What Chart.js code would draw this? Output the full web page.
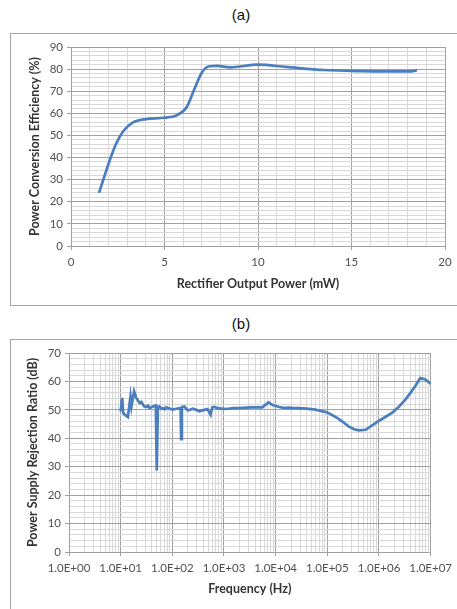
<!DOCTYPE html>
<html>
<head>
<meta charset="utf-8">
<script src="https://cdn.jsdelivr.net/npm/chart.js@4.4.1/dist/chart.umd.min.js"></script>
<style>
  body { margin: 0; background: #fff; width: 457px; height: 609px; overflow: hidden; position: relative; font-family: "Liberation Sans", Arial, sans-serif; }
  .titulo { position: absolute; width: 60px; text-align: center; font-size: 15px; color: #111; }
  .caja { position: absolute; left: 10px; width: 460px; border: 1px solid #a6a6a6; background: #fff; }
  .caja canvas { position: absolute; left: 0; top: 0; }
</style>
</head>
<body>
<div class="titulo" style="left:211px; top:6px;">(a)</div>
<div class="caja" style="top:33px; height:271px;">
  <div style="position:absolute; left:0; top:0; width:446px; height:270px;"><canvas id="graficoA"></canvas></div>
</div>
<div class="titulo" style="left:211px; top:315px;">(b)</div>
<div class="caja" style="top:339px; height:300px;">
  <div style="position:absolute; left:0; top:0; width:446px; height:269px;"><canvas id="graficoB"></canvas></div>
</div>
<script>
// (a) eficiencia vs potencia de salida
const potencia = [1.5, 2.0, 2.4, 2.8, 3.3, 4.0, 5.0, 5.7, 6.2, 6.6, 7.0, 7.4, 7.8, 8.5, 10.0, 11.5, 13.5, 15.5, 17.0, 18.2, 18.5];
const eficiencia = [24, 37, 46, 52, 55.8, 57.4, 58, 59.3, 63, 71, 78.5, 81.3, 81.5, 80.8, 82, 81, 79.6, 79.1, 79, 79, 79.5];
const ejeXA = Array.from({ length: 21 }, (_, i) => i);       // 0..20
const ejeYA = Array.from({ length: 46 }, (_, i) => i * 2);   // 0..90

// (b) PSRR vs frecuencia
const frecuencia = [10, 10.7, 11.2, 12, 13.8, 15.5, 16.2, 18.2, 20, 21.4, 23.4, 25.1, 27, 28.8, 31.6, 33.9, 36.3, 41.7,
  47.9, 50, 52.5, 56.2, 61, 66, 71, 76, 88, 102, 120, 138, 145, 148, 153, 170, 200, 251, 290, 331, 400, 479, 550, 590,
  646, 800, 1100, 1500, 1950, 2700, 3550, 4500, 5500, 7250, 9000, 11750, 14000, 18200, 22000, 28200, 40000, 58900,
  100000, 144500, 200000, 257000, 330000, 407000, 550000, 700000, 977000, 1300000, 1780000, 2400000, 3240000,
  4000000, 5010000, 6310000, 7760000, 10000000];
const psrr = [49.5, 54.2, 48.9, 48.3, 47.5, 54.7, 51.2, 56.5, 54.2, 53.5, 52.4, 52.8, 51.8, 51.2, 51, 51.5, 50.6, 51.2,
  51.5, 28.7, 51, 51.2, 50.4, 50.6, 50.2, 50.9, 50.5, 50.1, 50.4, 50.6, 50, 39.7, 51, 51.2, 49.8, 50.4, 50, 49.5, 49.9, 50.3, 48.3, 50.8,
  51, 50.5, 50.3, 50.6, 50.6, 50.8, 50.9, 50.9, 50.9, 52.6, 51.6, 51, 50.7, 50.8, 50.6, 50.6, 50.4, 50.1,
  49.1, 47.5, 45.8, 44.2, 43.2, 42.8, 43, 44.3, 46, 47.4, 48.9, 51, 53.6,
  55.8, 58.3, 61.2, 60.8, 59.2];
const decadas = [1, 10, 100, 1000, 10000, 100000, 1000000, 10000000];
const ejeXB = decadas.flatMap((d, i) => i < decadas.length - 1 ? [1, 2, 3, 4, 5, 6, 7, 8, 9].map(m => m * d) : [d]);
const ejeYB = Array.from({ length: 36 }, (_, i) => i * 2);   // 0..70

const azul = "#4a7ebf";
const rejillaMenor = "#d9d9d9";
const rejillaMayor = "#a0a0a0";
const fuenteTicks = { family: "Lato, 'Open Sans', sans-serif", size: 11.5 };
const fuenteTitulo = { family: "Lato, 'Open Sans', sans-serif", size: 12.5, weight: "bold" };

const fijarTicks = (valores) => (scale) => { scale.ticks = valores.map(v => ({ value: v })); };

// (a)
new Chart(document.getElementById("graficoA"), {
  type: "line",
  data: {
    datasets: [{
      data: potencia.map((p, i) => ({ x: p, y: eficiencia[i] })),
      borderColor: azul,
      borderWidth: 2.7,
      pointRadius: 0,
      tension: 0.4,
      cubicInterpolationMode: "monotone",
    }],
  },
  options: {
    responsive: true,
    maintainAspectRatio: false,
    animation: false,
    layout: { padding: { left: 12, right: 12, top: 13, bottom: 9 } },
    plugins: { legend: { display: false }, tooltip: { enabled: false } },
    scales: {
      x: {
        type: "linear", min: 0, max: 20,
        afterBuildTicks: fijarTicks(ejeXA),
        afterFit: (s) => { s.height = 49; },
        grid: {
          color: (c) => c.tick && c.tick.value % 5 === 0 ? rejillaMayor : rejillaMenor,
          tickColor: (c) => c.tick && c.tick.value % 5 === 0 ? rejillaMayor : "rgba(0,0,0,0)",
          tickLength: 4,
        },
        border: { color: rejillaMayor },
        ticks: { autoSkip: false, maxRotation: 0, padding: 5, color: "#505050", font: fuenteTicks,
          callback: (v) => v % 5 === 0 ? v : "" },
        title: { display: true, text: "Rectifier Output Power (mW)", color: "#333", font: fuenteTitulo },
      },
      y: {
        min: 0, max: 90,
        afterBuildTicks: fijarTicks(ejeYA),
        afterFit: (s) => { s.width = 48; },
        grid: {
          color: (c) => c.tick && c.tick.value % 10 === 0 ? rejillaMayor : rejillaMenor,
          tickColor: (c) => c.tick && c.tick.value % 10 === 0 ? rejillaMayor : "rgba(0,0,0,0)",
          tickLength: 4,
        },
        border: { color: rejillaMayor },
        ticks: { autoSkip: false, padding: 4, color: "#505050", font: fuenteTicks,
          callback: (v) => v % 10 === 0 ? v : "" },
        title: { display: true, text: "Power Conversion Efficiency (%)", color: "#333", font: fuenteTitulo },
      },
    },
  },
});

// (b)
const esDecada = (v) => decadas.includes(v);
const formatoExp = (v) => {
  const e = Math.round(Math.log10(v));
  return "1.0E+" + String(e).padStart(2, "0");
};

new Chart(document.getElementById("graficoB"), {
  type: "line",
  data: {
    datasets: [{
      data: frecuencia.map((f, i) => ({ x: f, y: psrr[i] })),
      borderColor: azul,
      borderWidth: 2.7,
      pointRadius: 0,
      tension: 0,
    }],
  },
  options: {
    responsive: true,
    maintainAspectRatio: false,
    animation: false,
    layout: { padding: { left: 10, right: 25, top: 13, bottom: 9 } },
    plugins: { legend: { display: false }, tooltip: { enabled: false } },
    scales: {
      x: {
        type: "logarithmic", min: 1, max: 10000000,
        afterBuildTicks: fijarTicks(ejeXB),
        afterFit: (s) => { s.height = 48; },
        grid: {
          color: (c) => c.tick && esDecada(c.tick.value) ? rejillaMayor : rejillaMenor,
          tickColor: (c) => c.tick && esDecada(c.tick.value) ? rejillaMayor : "rgba(0,0,0,0)",
          tickLength: 4,
        },
        border: { color: rejillaMayor },
        ticks: { autoSkip: false, maxRotation: 0, padding: 5, color: "#505050", font: fuenteTicks,
          callback: (v) => esDecada(v) ? formatoExp(v) : "" },
        title: { display: true, text: "Frequency (Hz)", color: "#333", font: fuenteTitulo },
      },
      y: {
        min: 0, max: 70,
        afterBuildTicks: fijarTicks(ejeYB),
        afterFit: (s) => { s.width = 48; },
        grid: {
          color: (c) => c.tick && c.tick.value % 10 === 0 ? rejillaMayor : rejillaMenor,
          tickColor: (c) => c.tick && c.tick.value % 10 === 0 ? rejillaMayor : "rgba(0,0,0,0)",
          tickLength: 4,
        },
        border: { color: rejillaMayor },
        ticks: { autoSkip: false, padding: 4, color: "#505050", font: fuenteTicks,
          callback: (v) => v % 10 === 0 ? v : "" },
        title: { display: true, text: "Power Supply Rejection Ratio (dB)", color: "#333", font: fuenteTitulo },
      },
    },
  },
});
</script>
</body>
</html>
